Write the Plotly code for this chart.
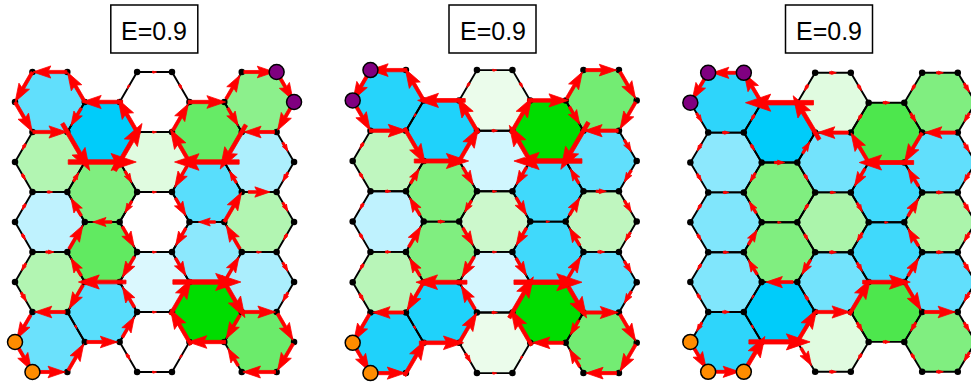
import numpy as np
import plotly.graph_objects as go

# ---------------- data ----------------
TITLES = ["E=0.9", "E=0.9", "E=0.9"]

# hexagon values per column (top to bottom); negative -> cyan, positive -> green
P1_HEX = [[-0.62, 0.30, -0.25, 0.30, -0.58],
          [-1.00, 0.50, 0.62, -0.65],
          [0.00, 0.12, 0.00, -0.14, 0.00],
          [0.60, -0.65, -0.45, 1.00],
          [0.45, -0.32, 0.30, -0.33, 0.58]]
P2_HEX = [[-0.85, 0.25, -0.25, 0.28, -0.88],
          [-0.88, 0.50, 0.50, -0.88],
          [0.08, -0.18, 0.20, -0.17, 0.08],
          [1.00, -0.75, -0.75, 1.00],
          [0.55, -0.62, 0.25, -0.62, 0.55]]
P3_HEX = [[-0.82, -0.45, -0.50, -0.50, -0.82],
          [-1.00, 0.50, 0.50, -1.00],
          [0.12, -0.55, 0.33, -0.55, 0.12],
          [0.70, -0.75, -0.75, 0.70],
          [0.50, -0.62, 0.33, -0.62, 0.50]]

# bond currents on horizontal bonds, per column, top to bottom (+ = towards the right)
P1_H = [[-0.50, 0.50, 0.08, 0.12, -0.45, 0.45],
        [-0.60, 1.00, -0.28, -0.70, 0.45],
        [0.06, 0.06, 0.06, 0.06, 0.06, 0.06],
        [0.55, -0.95, -0.25, 1.00, -0.55],
        [0.45, -0.45, 0.32, 0.07, 0.48, -0.48]]
P2_H = [[-0.55, 0.55, 0.08, 0.08, -0.45, 0.50],
        [-0.70, 0.80, 0.10, -0.75, 0.65],
        [0.06, 0.08, 0.06, 0.06, 0.08, 0.06],
        [0.60, -1.00, 0.05, 1.00, -0.45],
        [0.45, -0.50, 0.15, 0.10, 0.50, -0.45]]
P3_H = [[-0.40, 0.10, 0.08, 0.08, 0.10, 0.40],
        [-1.00, 0.15, 0.05, -0.40, 0.90],
        [0.10, -0.45, 0.08, 0.10, 0.50, 0.10],
        [0.10, -0.80, 0.05, 0.70, 0.10],
        [0.10, -0.45, 0.10, 0.10, 0.45, 0.10]]

# bond currents on the zig-zag bond lines (left of column 0 ... right of column 4),
# top to bottom (+ = downwards)
P1_Z = [[0.50, 0.50, 0.10, 0.10, 0.10, 0.10, 0.12, 0.15, 0.40, 0.45],
        [-0.50, 0.30, 0.80, -0.15, -0.30, -0.40, -0.30, 0.40, 0.05, -0.45],
        [0.06, -0.60, -0.80, 0.20, 0.20, 0.35, 0.35, -0.35, -0.35, 0.10],
        [0.08, -0.45, -0.60, 0.35, 0.30, 0.30, 0.30, -0.60, -0.60, 0.06],
        [-0.40, 0.30, 0.75, -0.20, -0.50, -0.40, -0.35, 0.70, 0.40, -0.30],
        [0.45, 0.45, 0.15, 0.15, 0.15, 0.10, 0.15, 0.15, 0.45, 0.45]]
P2_Z = [[0.50, 0.50, 0.10, 0.10, 0.10, 0.10, 0.10, 0.12, 0.45, 0.45],
        [-0.55, 0.05, 0.60, -0.25, -0.30, -0.35, -0.30, 0.45, 0.05, -0.60],
        [0.08, -0.60, -0.60, 0.30, 0.20, 0.30, 0.35, -0.40, -0.50, 0.15],
        [0.08, -0.60, -0.70, 0.30, 0.30, 0.30, 0.30, -0.70, -0.60, 0.05],
        [-0.45, 0.30, 0.80, -0.25, -0.30, -0.30, -0.35, 0.70, 0.25, -0.30],
        [0.45, 0.45, 0.20, 0.20, 0.20, 0.15, 0.20, 0.20, 0.45, 0.45]]
P3_Z = [[0.40, 0.15, 0.12, 0.12, 0.10, 0.10, 0.10, 0.10, 0.15, 0.40],
        [-0.50, 0.10, 0.10, 0.15, -0.20, -0.25, -0.25, 0.05, 0.05, -0.70],
        [0.10, -0.75, -0.20, 0.10, 0.10, 0.10, 0.25, -0.10, -0.60, 0.30],
        [0.10, 0.10, -0.50, 0.30, 0.15, 0.15, 0.15, -0.60, 0.15, 0.10],
        [0.10, 0.15, 0.50, -0.30, -0.30, -0.30, -0.30, 0.45, 0.15, 0.10],
        [0.15, 0.15, 0.15, 0.15, 0.15, 0.15, 0.15, 0.15, 0.15, 0.15]]

# lead sites (lattice vertex indices)
P1_PURPLE = [(13, -1), (14, 0)]
P2_PURPLE = [(-1, -1), (-2, 0)]
P3_PURPLE = [(-1, -1), (1, -1), (-2, 0)]
P1_ORANGE = [(-2, 8), (-1, 9)]
P2_ORANGE = [(-2, 8), (-1, 9)]
P3_ORANGE = [(-2, 8), (-1, 9), (1, 9)]

PANEL_HEX = [P1_HEX, P2_HEX, P3_HEX]
PANEL_H = [P1_H, P2_H, P3_H]
PANEL_Z = [P1_Z, P2_Z, P3_Z]
PANEL_PURPLE = [P1_PURPLE, P2_PURPLE, P3_PURPLE]
PANEL_ORANGE = [P1_ORANGE, P2_ORANGE, P3_ORANGE]

# ---------------- layout of the three panels (pixels) ----------------
GEOM = [dict(x0=49.9, sx=17.44, y0=102.0, sy=30.0, tx=154.3),
        dict(x0=388.2, sx=17.75, y0=100.4, sy=30.3, tx=492.5),
        dict(x0=726.0, sx=17.83, y0=102.7, sy=29.9, tx=829.0)]
W, H = 971, 383
RED = "#ff0000"


def to_px(g, X, Y):
    return (g["x0"] + g["sx"] * X, g["y0"] + g["sy"] * Y)


def hex_color(v):
    a = min(1.0, abs(v))
    tgt = (0, 221, 0) if v >= 0 else (0, 204, 250)
    r, gg, b = [round(255 * (1 - a) + t * a) for t in tgt]
    return f"rgb({r},{gg},{b})"


def hex_vertices(col, row):
    X = 3 * col
    Y = 2 * row + (col % 2)
    return [(X - 2, Y), (X - 1, Y - 1), (X + 1, Y - 1), (X + 2, Y), (X + 1, Y + 1), (X - 1, Y + 1)]


def zig_X(z, Y):
    c = z - 1
    odd = (Y % 2) != 0
    if c % 2 == 0:
        return 3 * c + 1 if odd else 3 * c + 2
    return 3 * c + 2 if odd else 3 * c + 1


def arrow_poly(p, q, w):
    p = np.array(p, float)
    q = np.array(q, float)
    m = (p + q) / 2
    d = q - p
    d /= np.hypot(*d)
    if w < 0:
        d = -d
    a = abs(w)
    n = np.array([-d[1], d[0]])
    L = 68 * a
    sw = 1.9 + 2.6 * a
    hl, hal, hw = 5.6 * sw, 4.9 * sw, 3.8 * sw
    if hl > 0.7 * L:
        f = 0.7 * L / hl
        hl, hal, hw = hl * f, hal * f, hw * f
        sw = max(min(sw, hw / 1.3), 1.8)
    tail = m - d * L / 2
    tip = m + d * L / 2
    base = tip - d * hl
    notch = tip - d * hal
    pts = [tail + n * sw / 2, notch + n * sw / 2, base + n * hw / 2, tip,
           base - n * hw / 2, notch - n * sw / 2, tail - n * sw / 2, tail + n * sw / 2]
    return pts


fig = go.Figure()
shapes = []
annotations = []

for k in range(3):
    g = GEOM[k]
    hexes = PANEL_HEX[k]
    # hexagon fills
    for c, colvals in enumerate(hexes):
        for r, v in enumerate(colvals):
            vs = [to_px(g, X, Y) for X, Y in hex_vertices(c, r)]
            path = "M " + " L ".join(f"{x:.2f},{y:.2f}" for x, y in vs) + " Z"
            shapes.append(dict(type="path", path=path, xref="x", yref="y",
                               fillcolor=hex_color(v), line=dict(width=0), layer="below"))
    # black bonds
    ex, ey = [], []
    verts = set()
    for c, colvals in enumerate(hexes):
        for r in range(len(colvals)):
            hv = hex_vertices(c, r)
            verts.update(hv)
            for X, Y in hv + [hv[0]]:
                x, y = to_px(g, X, Y)
                ex.append(x)
                ey.append(y)
            ex.append(None)
            ey.append(None)
    fig.add_trace(go.Scatter(x=ex, y=ey, mode="lines", line=dict(color="black", width=1.9),
                             hoverinfo="skip", showlegend=False))
    vx, vy = zip(*[to_px(g, X, Y) for X, Y in sorted(verts)])
    fig.add_trace(go.Scatter(x=vx, y=vy, mode="markers",
                             marker=dict(color="black", size=6.5, line=dict(width=0)),
                             hoverinfo="skip", showlegend=False))
    # bond current arrows
    ax_, ay_ = [], []
    for c, vals in enumerate(PANEL_H[k]):
        for i, w in enumerate(vals):
            Y = 2 * i - 1 + (c % 2)
            p = to_px(g, 3 * c - 1, Y)
            q = to_px(g, 3 * c + 1, Y)
            for pt in arrow_poly(p, q, w):
                ax_.append(pt[0]); ay_.append(pt[1])
            ax_.append(None); ay_.append(None)
    for z, vals in enumerate(PANEL_Z[k]):
        for i, w in enumerate(vals):
            Y1, Y2 = i - 1, i
            p = to_px(g, zig_X(z, Y1), Y1)
            q = to_px(g, zig_X(z, Y2), Y2)
            for pt in arrow_poly(p, q, w):
                ax_.append(pt[0]); ay_.append(pt[1])
            ax_.append(None); ay_.append(None)
    fig.add_trace(go.Scatter(x=ax_, y=ay_, mode="lines", fill="toself", fillcolor=RED,
                             line=dict(color=RED, width=0.8), hoverinfo="skip", showlegend=False))
    # leads
    for sites, col in ((PANEL_PURPLE[k], "#800080"), (PANEL_ORANGE[k], "#ff8c00")):
        lx, ly = zip(*[to_px(g, X, Y) for X, Y in sites])
        fig.add_trace(go.Scatter(x=lx, y=ly, mode="markers",
                                 marker=dict(color=col, size=15, line=dict(color="black", width=1.5)),
                                 hoverinfo="skip", showlegend=False))
    # title box
    tx = g["tx"]
    shapes.append(dict(type="rect", xref="x", yref="y", x0=tx - 43.5, x1=tx + 43.5, y0=5, y1=53,
                       line=dict(color="black", width=1.5), fillcolor="white", layer="above"))
    annotations.append(dict(x=tx, y=31, xref="x", yref="y", text=TITLES[k], showarrow=False,
                            font=dict(family="Liberation Sans, Arial", size=25, color="black"),
                            xanchor="center", yanchor="middle"))

fig.update_layout(width=W, height=H, margin=dict(l=0, r=0, t=0, b=0),
                  plot_bgcolor="white", paper_bgcolor="white",
                  shapes=shapes, annotations=annotations,
                  xaxis=dict(range=[0, W], visible=False, fixedrange=True),
                  yaxis=dict(range=[H, 0], visible=False, fixedrange=True),
                  showlegend=False)
fig.write_html("out.html")
